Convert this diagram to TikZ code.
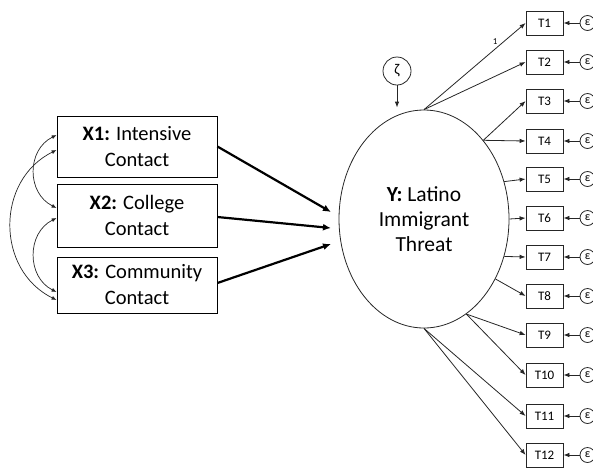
\documentclass[tikz,border=0pt]{standalone}
\usepackage{fontspec}
\setmainfont{Carlito}
\usetikzlibrary{arrows.meta,shapes.geometric,calc}
\begin{document}
\begin{tikzpicture}[x=1pt,y=1pt,
  xbox/.style={draw=black, line width=0.8pt, minimum width=160pt, inner sep=0pt,
    align=center, font=\fontsize{20.5}{26}\selectfont},
  tbox/.style={draw=black!85, line width=0.8pt, minimum width=37pt, minimum height=24pt,
    inner sep=0pt, font=\fontsize{13}{14}\selectfont},
  errc/.style={circle, draw=black!85, line width=0.8pt, minimum size=15pt, inner sep=0pt,
    font=\fontsize{12}{12}\selectfont},
  latent/.style={ellipse, draw=black!85, line width=0.8pt, minimum width=170pt,
    minimum height=218pt, inner sep=0pt, align=center, font=\fontsize{21.5}{25}\selectfont},
  thinarrow/.style={draw=black!85, line width=0.8pt, -{Latex[length=6pt,width=4.5pt]}},
  bothway/.style={draw=black!85, line width=0.7pt, {Latex[length=5pt,width=4pt]}-{Latex[length=5pt,width=4pt]}},
  thickarrow/.style={draw=black, line width=2.2pt, -{Latex[length=8pt,width=7pt]}}
]
\useasboundingbox (0,0) rectangle (593,-472);

% exogenous contact measures
\node[xbox, minimum height=61pt] (x1) at (137,-146.5) {\textbf{X1:} Intensive\\Contact};
\node[xbox, minimum height=63pt] (x2) at (137,-215.5) {\textbf{X2:} College\\Contact};
\node[xbox, minimum height=56pt] (x3) at (137,-285) {\textbf{X3:} Community\\Contact};

% latent outcome
\node[latent] (lat) at (424,-219) {\textbf{Y:} Latino\\Immigrant\\Threat};

% disturbance
\node[circle, draw=black!85, line width=0.8pt, minimum size=28pt, inner sep=0pt,
  font=\fontsize{15}{15}\selectfont] (zeta) at (397,-71) {ζ};
\draw[thinarrow] (zeta.south) -- ([yshift=2pt]zeta |- lat.north);

% covariances among the contact measures
\draw[bothway] ([yshift=11.5pt]x1.west) .. controls +(-30,-15) and +(-30,15) .. ([yshift=7.5pt]x2.west);
\draw[bothway] ([yshift=-2.5pt]x2.west) .. controls +(-30,-15) and +(-30,15) .. ([yshift=-7pt]x3.west);
\draw[bothway] ([yshift=-3.5pt]x1.west) .. controls +(-61,-30) and +(-61,30) .. ([yshift=-15pt]x3.west);

% structural paths
\coordinate (in1) at (331,-212);
\coordinate (in2) at (331,-228);
\coordinate (in3) at (331,-244);
\draw[thickarrow] (x1.east) -- (in1);
\draw[thickarrow] ([yshift=-1.5pt]x2.east) -- (in2);
\draw[thickarrow] ([yshift=2pt]x3.east) -- (in3);

% indicators with their error terms
\foreach \i/\yy/\ang in {1/23/90, 2/62/90, 3/101/53, 4/141/53, 5/179/25, 6/218/0,
  7/257/-25, 8/296/-40, 9/335/-66, 10/375/-66, 11/416/-90, 12/455/-90}{
  \node[tbox] (t\i) at (544.5,-\yy) {T\i};
  \node[errc] (eps\i) at (587.5,-\yy) {ε};
  \draw[thinarrow] (lat.\ang) -- (t\i.west);
  \draw[thinarrow] (eps\i) -- (t\i);
}
\path (lat.90) -- (t1.west) node[pos=0.7, above=3pt, inner sep=1pt, font=\fontsize{9}{9}\selectfont] (one) {1};
\end{tikzpicture}
\end{document}
